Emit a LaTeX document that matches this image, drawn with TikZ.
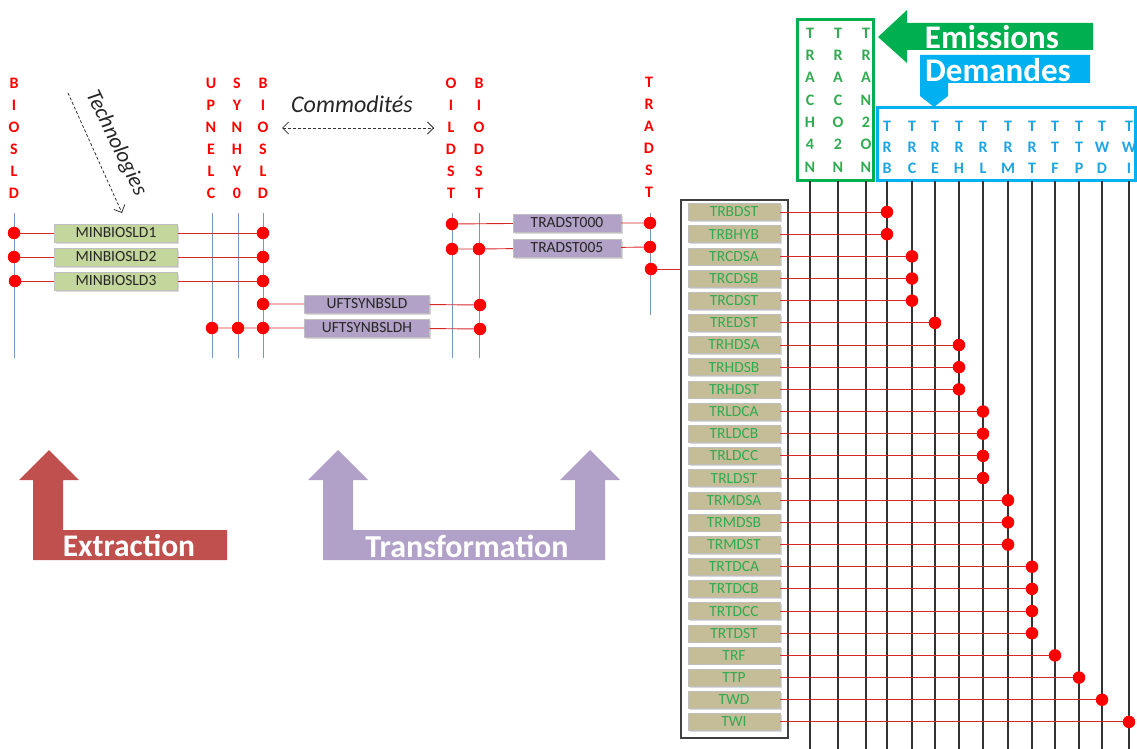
\documentclass[tikz,border=0pt]{standalone}
\usepackage{fontspec}
\setmainfont{Carlito}
\usetikzlibrary{arrows.meta, shadows}

\definecolor{dotred}{RGB}{255,0,0}
\definecolor{linkred}{RGB}{215,40,40}
\definecolor{commoblue}{RGB}{120,150,195}
\definecolor{minfill}{RGB}{195,214,155}
\definecolor{uftfill}{RGB}{179,162,199}
\definecolor{trfill}{RGB}{196,189,151}
\definecolor{trtext}{RGB}{50,170,80}
\definecolor{emigreen}{RGB}{0,176,80}
\definecolor{demblue}{RGB}{0,176,240}
\definecolor{demtext}{RGB}{30,165,225}
\definecolor{extred}{RGB}{192,80,77}
\definecolor{trpurple}{RGB}{177,160,199}

\begin{document}
\begin{tikzpicture}[x=1pt,y=-1pt]

\tikzset{dot/.style = {shape=circle, fill=dotred, inner sep=0pt, minimum size=12.5pt}}
\tikzset{link/.style = {draw=linkred, line width=0.9pt}}
\tikzset{commo/.style = {draw=commoblue, line width=1pt}}
\tikzset{demcol/.style = {draw=black!80, line width=1.1pt}}
\tikzset{vlabel/.style = {text=red, font=\fontsize{16}{22}\selectfont\bfseries, align=center, inner sep=0pt}}
\tikzset{techbox/.style = {shape=rectangle, draw=black!25, inner sep=0pt, minimum height=18pt, text=black!85,
  font=\fontsize{15.5}{16}\selectfont, drop shadow={shadow xshift=1.5pt, shadow yshift=-1.5pt, opacity=0.3}}}
\tikzset{mintech/.style = {techbox, fill=minfill, minimum width=123pt}}
\tikzset{uftech/.style = {techbox, fill=uftfill, minimum width=125pt}}
\tikzset{trtech/.style = {techbox, fill=trfill, text=trtext, minimum width=92pt, minimum height=17pt}}
\tikzset{bigword/.style = {text=white, font=\fontsize{33}{33}\selectfont\bfseries, inner sep=0pt}}

\useasboundingbox (0,0) rectangle (1137,749);

%commodities
\node[vlabel] (biosldA) at (14,138) {B\\I\\O\\S\\L\\D};
\node[vlabel] (upnelc) at (211,138) {U\\P\\N\\E\\L\\C};
\node[vlabel] (synhy) at (237,138) {S\\Y\\N\\H\\Y\\0};
\node[vlabel] (biosldB) at (263,138) {B\\I\\O\\S\\L\\D};
\node[vlabel] (oildst) at (451,138) {O\\I\\L\\D\\S\\T};
\node[vlabel] (biodst) at (479,138) {B\\I\\O\\D\\S\\T};
\node[vlabel] (tradst) at (649,137) {T\\R\\A\\D\\S\\T};
\foreach \x in {14,212,238,263,452,479}
  \draw[commo] (\x,213) -- (\x,358);
\draw[commo] (650,213) -- (650,315);

%legend arrows
\coordinate (techA) at (68,93);
\coordinate (techB) at (122,213);
\draw[densely dashed, black!80, line width=0.8pt, -{Straight Barb[length=6pt]}] (techA) -- (techB);
\node[rotate=-64, font=\fontsize{22}{22}\selectfont\itshape, text=black!85] (techno) at (116,143) {Technologies};
\coordinate (comA) at (282,128);
\coordinate (comB) at (434,128);
\draw[densely dashed, black!80, line width=0.8pt, {Straight Barb[length=6pt]}-{Straight Barb[length=6pt]}] (comA) -- (comB);
\node[font=\fontsize{24}{24}\selectfont\itshape, text=black!85] (commod) at (352,104) {Commodités};

%extraction
\node[mintech] (minbio1) at (116,233) {MINBIOSLD1};
\node[mintech] (minbio2) at (116,257) {MINBIOSLD2};
\node[mintech] (minbio3) at (116,281) {MINBIOSLD3};
\node[dot] (in1) at (14,233) {};
\node[dot] (in2) at (14,257) {};
\node[dot] (in3) at (15,281) {};
\node[dot] (out1) at (263,233) {};
\node[dot] (out2) at (263,257) {};
\node[dot] (out3) at (263,281) {};
\draw[link] (in1) -- (minbio1) -- (out1);
\draw[link] (in2) -- (minbio2) -- (out2);
\draw[link] (in3) -- (minbio3) -- (out3);

%transformation
\node[uftech] (uft1) at (367,304) {UFTSYNBSLD};
\node[uftech] (uft2) at (367,328) {UFTSYNBSLDH};
\node[dot] (bsl4) at (263,304) {};
\node[dot] (bds1) at (480,305) {};
\node[dot] (upn) at (212,328) {};
\node[dot] (syn) at (238,328) {};
\node[dot] (bsl5) at (263,328) {};
\node[dot] (bds2) at (480,329) {};
\draw[link] (bsl4) -- (uft1) -- (bds1);
\draw[link] (upn) -- (syn) -- (bsl5) -- (uft2) -- (bds2);

\node[uftech, minimum width=108pt] (trad1) at (567,223) {TRADST000};
\node[uftech, minimum width=108pt] (trad2) at (567,248) {TRADST005};
\node[dot] (oil1) at (452,224) {};
\node[dot] (oil2) at (452,249) {};
\node[dot] (bio2) at (479,249) {};
\node[dot] (tra1) at (650,223) {};
\node[dot] (tra2) at (650,247) {};
\node[dot] (tra3) at (651,269) {};
\draw[link] (oil1) -- (trad1) -- (tra1);
\draw[link] (oil2) -- (bio2) -- (trad2) -- (tra2);

%emissions and demands
\node[draw=emigreen, line width=3pt, minimum width=76pt, minimum height=160pt] (emibox) at (835,100) {};
\node[draw=demblue, line width=3pt, minimum width=258pt, minimum height=72pt] (dembox) at (1006,144) {};
\node[vlabel, text=trtext, font=\fontsize{16}{22.3}\selectfont\bfseries] (trach) at (810,100) {T\\R\\A\\C\\H\\4\\N};
\node[vlabel, text=trtext, font=\fontsize{16}{22.3}\selectfont\bfseries] (traco) at (838,100) {T\\R\\A\\C\\O\\2\\N};
\node[vlabel, text=trtext, font=\fontsize{16}{22.3}\selectfont\bfseries] (tran) at (866,100) {T\\R\\A\\N\\2\\O\\N};
\foreach \x/\a/\b in {887/R/B, 912/R/C, 935/R/E, 959/R/H, 983/R/L, 1008/R/M, 1032/R/T, 1055/T/F, 1079/T/P, 1102/W/D, 1129/W/I}
  \node[vlabel, text=demtext, font=\fontsize{16}{21}\selectfont\bfseries] (dem\x) at (\x,147) {T\\\a\\\b};
\foreach \x in {810,838,866,887,912,935,959,983,1008,1032,1055,1079,1102,1129}
  \draw[demcol] (\x,181) -- (\x,749);

\fill[emigreen] (878,37) -- (907,10) -- (907,23) -- (1093,23) -- (1093,50) -- (907,50) -- (907,63) -- cycle;
\node[bigword] (emi) at (992,37) {Emissions};
\fill[demblue] (920,55) -- (1090,55) -- (1090,83) -- (948,83) -- (948,96) -- (934,107) -- (920,96) -- cycle;
\node[bigword] (dem) at (998,70) {Demandes};

%demand technologies
\node[draw=black!75, line width=1.2pt, minimum width=107pt, minimum height=538pt, inner sep=0pt] (trlist) at (734.5,469) {};
\draw[link] (tra3) -- (tra3 -| trlist.west);
\foreach \t/\c [count=\i from 0] in {TRBDST/887, TRBHYB/887, TRCDSA/912, TRCDSB/912, TRCDST/912, TREDST/935,
    TRHDSA/959, TRHDSB/959, TRHDST/959, TRLDCA/983, TRLDCB/983, TRLDCC/983, TRLDST/983,
    TRMDSA/1008, TRMDSB/1008, TRMDST/1008, TRTDCA/1032, TRTDCB/1032, TRTDCC/1032, TRTDST/1032,
    TRF/1055, TTP/1079, TWD/1102, TWI/1129}
{
  \node[trtech] (tr\i) at (734, 212+22.17*\i) {\t};
  \node[dot] (use\i) at (\c, 212+22.17*\i) {};
  \draw[link] (tr\i) -- (use\i);
}

%big arrows
\fill[extred] (49,450) -- (79,480) -- (63,480) -- (63,530) -- (227,530) -- (227,560) -- (33,560) -- (33,480) -- (19,480) -- cycle;
\node[bigword, font=\fontsize{31.5}{31.5}\selectfont\bfseries] (extr) at (129,546) {Extraction};
\fill[trpurple] (338,450) -- (368,480) -- (353,480) -- (353,530) -- (575,530) -- (575,480) -- (560,480) -- (590,450)
  -- (620,480) -- (605,480) -- (605,560) -- (323,560) -- (323,480) -- (308,480) -- cycle;
\node[bigword, font=\fontsize{32}{32}\selectfont\bfseries] (transf) at (467,546) {Transformation};

\end{tikzpicture}
\end{document}
